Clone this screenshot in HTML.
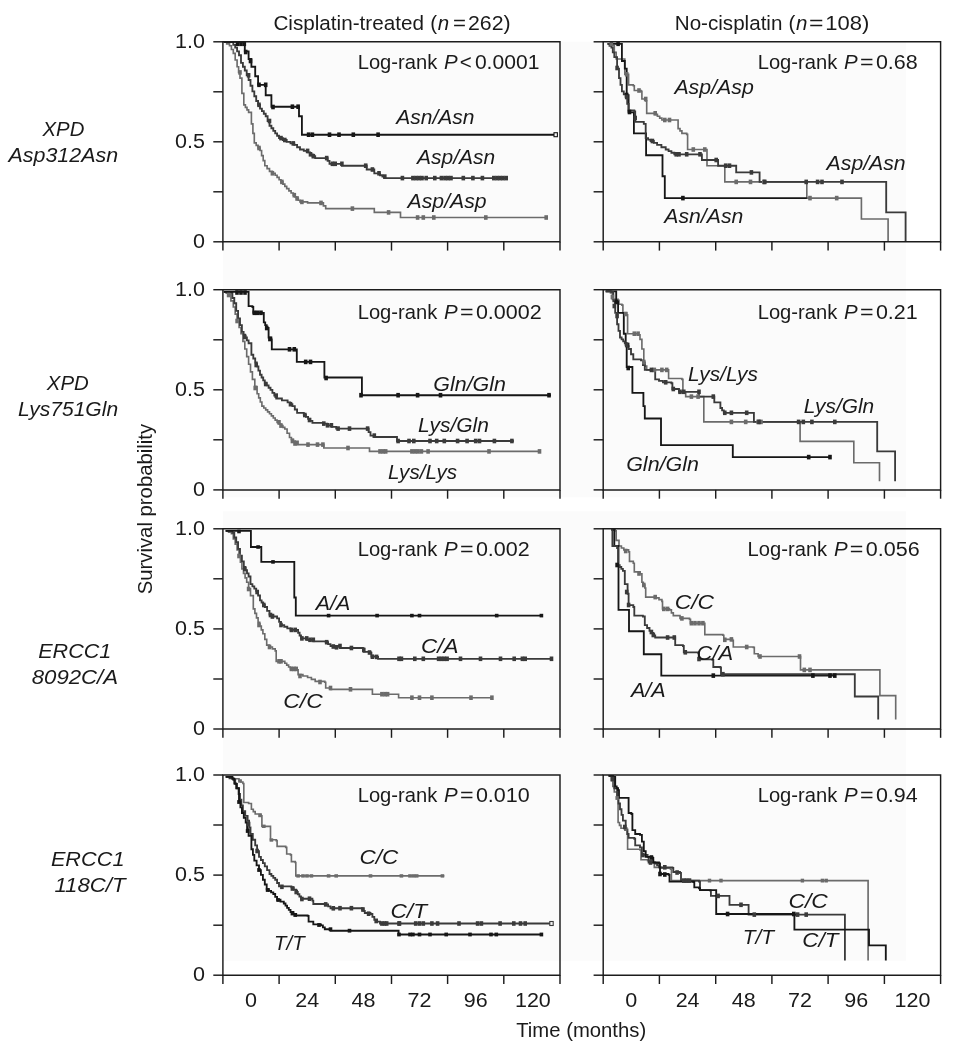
<!DOCTYPE html>
<html><head><meta charset="utf-8"><title>Survival curves</title>
<style>
html,body{margin:0;padding:0;background:#fff;}
body{width:953px;height:1050px;overflow:hidden;font-family:"Liberation Sans",sans-serif;}
svg{display:block;will-change:transform;opacity:0.999;}
</style></head><body>
<svg width="953" height="1050" viewBox="0 0 953 1050" font-family="Liberation Sans, sans-serif">
<rect width="953" height="1050" fill="#ffffff"/>
<rect x="223.0" y="41.8" width="683.0" height="455.4" fill="#fbfbfb"/>
<rect x="223.0" y="511.3" width="683.0" height="449.3" fill="#fbfbfb"/>
<clipPath id="cl00"><rect x="222.9" y="41.8" width="337.1" height="200.0"/></clipPath>
<g clip-path="url(#cl00)" fill="none" stroke-linejoin="miter">
<path d="M223.8 42.0 L226.7 42.0 L226.7 43.9 L229.5 43.9 L229.5 45.7 L231.4 45.7 L231.4 49.5 L233.3 49.5 L233.3 53.3 L235.2 53.3 L235.2 60.0 L237.1 60.0 L237.1 66.7 L238.6 66.7 L238.6 72.4 L240.0 72.4 L240.0 78.1 L241.9 78.1 L241.9 93.3 L243.8 93.3 L243.8 104.8 L245.4 104.8 L245.4 107.3 L247.0 107.3 L247.0 109.9 L248.6 109.9 L248.6 112.4 L251.4 112.4 L251.4 123.8 L252.9 123.8 L252.9 133.3 L254.3 133.3 L254.3 142.9 L256.2 142.9 L256.2 145.4 L258.1 145.4 L258.1 148.0 L260.0 148.0 L260.0 150.5 L261.6 150.5 L261.6 155.6 L263.2 155.6 L263.2 160.6 L264.8 160.6 L264.8 165.7 L267.1 165.7 L267.1 168.6 L269.5 168.6 L269.5 171.4 L272.4 171.4 L272.4 173.3 L275.2 173.3 L275.2 175.2 L277.1 175.2 L277.1 177.4 L279.1 177.4 L279.1 179.7 L281.0 179.7 L281.0 181.9 L282.9 181.9 L282.9 184.1 L284.8 184.1 L284.8 186.4 L286.7 186.4 L286.7 188.6 L288.9 188.6 L288.9 190.8 L291.1 190.8 L291.1 193.0 L293.3 193.0 L293.3 195.2 L295.0 195.2 L295.0 196.9 L296.6 196.9 L296.6 198.6 L298.3 198.6 L298.3 200.2 L300.0 200.2 L300.0 201.9 L307.6 201.9 L307.6 202.9 L321.0 202.9 L323.4 202.9 L323.4 205.8 L325.7 205.8 L325.7 208.6 L372.4 208.6 L374.3 208.6 L374.3 212.4 L400.5 212.4 L400.5 217.5 L546.2 217.5" stroke="#6b6b6b" stroke-width="1.65"/>
<path d="M223.8 42.0 L231.4 42.0 L233.3 42.0 L233.3 44.8 L235.2 44.8 L235.2 47.6 L237.1 47.6 L237.1 51.4 L239.0 51.4 L239.0 55.2 L241.0 55.2 L241.0 62.9 L242.9 62.9 L242.9 66.7 L244.8 66.7 L244.8 70.5 L246.7 70.5 L246.7 75.2 L248.6 75.2 L248.6 80.0 L250.5 80.0 L250.5 85.7 L252.4 85.7 L252.4 91.4 L254.3 91.4 L254.3 96.2 L256.2 96.2 L256.2 101.0 L258.1 101.0 L258.1 104.8 L260.0 104.8 L260.0 108.6 L261.9 108.6 L261.9 111.1 L263.8 111.1 L263.8 113.7 L265.7 113.7 L265.7 116.2 L267.6 116.2 L267.6 121.0 L269.5 121.0 L269.5 125.7 L271.4 125.7 L271.4 128.2 L273.3 128.2 L273.3 130.8 L275.2 130.8 L275.2 133.3 L277.1 133.3 L277.1 135.7 L279.0 135.7 L279.0 138.1 L282.9 138.1 L282.9 140.0 L286.7 140.0 L286.7 141.9 L290.5 141.9 L290.5 143.4 L294.3 143.4 L294.3 144.8 L297.1 144.8 L297.1 147.2 L300.0 147.2 L300.0 149.5 L303.8 149.5 L303.8 150.9 L307.6 150.9 L307.6 152.4 L310.1 152.4 L310.1 154.3 L312.7 154.3 L312.7 156.2 L315.2 156.2 L315.2 158.1 L325.7 158.1 L327.6 158.1 L327.6 160.9 L329.5 160.9 L329.5 163.8 L341.9 163.8 L341.9 165.7 L364.8 165.7 L366.7 165.7 L366.7 169.5 L372.4 169.5 L374.3 169.5 L374.3 173.3 L380.0 173.3 L380.0 175.2 L382.4 175.2 L382.4 176.6 L384.8 176.6 L384.8 178.1 L506.2 178.1" stroke="#3a3a3a" stroke-width="1.85"/>
<path d="M223.8 41.9 L244.8 41.9 L244.8 51.4 L248.6 51.4 L248.6 59.0 L251.4 59.0 L251.4 66.7 L255.2 66.7 L255.2 76.2 L258.1 76.2 L258.1 84.8 L265.7 84.8 L265.7 95.2 L271.4 95.2 L271.4 106.7 L299.0 106.7 L299.0 116.2 L301.9 116.2 L301.9 134.7 L555.7 134.7" stroke="#161616" stroke-width="1.85"/>
<rect x="238.2" y="70.1" width="3.6" height="4.6" fill="#6b6b6b" stroke="none"/>
<rect x="257.2" y="145.7" width="3.6" height="4.6" fill="#6b6b6b" stroke="none"/>
<rect x="270.6" y="171.0" width="3.6" height="4.6" fill="#6b6b6b" stroke="none"/>
<rect x="280.1" y="179.6" width="3.6" height="4.6" fill="#6b6b6b" stroke="none"/>
<rect x="292.5" y="192.9" width="3.6" height="4.6" fill="#6b6b6b" stroke="none"/>
<rect x="295.3" y="196.2" width="3.6" height="4.6" fill="#6b6b6b" stroke="none"/>
<rect x="300.1" y="199.6" width="3.6" height="4.6" fill="#6b6b6b" stroke="none"/>
<rect x="319.2" y="200.6" width="3.6" height="4.6" fill="#6b6b6b" stroke="none"/>
<rect x="350.6" y="206.3" width="3.6" height="4.6" fill="#6b6b6b" stroke="none"/>
<rect x="386.8" y="210.1" width="3.6" height="4.6" fill="#6b6b6b" stroke="none"/>
<rect x="415.8" y="215.2" width="3.6" height="4.6" fill="#6b6b6b" stroke="none"/>
<rect x="421.5" y="215.2" width="3.6" height="4.6" fill="#6b6b6b" stroke="none"/>
<rect x="432.0" y="215.2" width="3.6" height="4.6" fill="#6b6b6b" stroke="none"/>
<rect x="484.0" y="215.2" width="3.6" height="4.6" fill="#6b6b6b" stroke="none"/>
<rect x="544.4" y="215.2" width="3.6" height="4.6" fill="#6b6b6b" stroke="none"/>
<rect x="246.8" y="73.0" width="3.6" height="4.6" fill="#3a3a3a" stroke="none"/>
<rect x="257.2" y="102.5" width="3.6" height="4.6" fill="#3a3a3a" stroke="none"/>
<rect x="267.7" y="118.7" width="3.6" height="4.6" fill="#3a3a3a" stroke="none"/>
<rect x="279.2" y="135.8" width="3.6" height="4.6" fill="#3a3a3a" stroke="none"/>
<rect x="283.0" y="137.7" width="3.6" height="4.6" fill="#3a3a3a" stroke="none"/>
<rect x="291.5" y="141.1" width="3.6" height="4.6" fill="#3a3a3a" stroke="none"/>
<rect x="305.8" y="148.6" width="3.6" height="4.6" fill="#3a3a3a" stroke="none"/>
<rect x="308.7" y="152.0" width="3.6" height="4.6" fill="#3a3a3a" stroke="none"/>
<rect x="311.5" y="153.9" width="3.6" height="4.6" fill="#3a3a3a" stroke="none"/>
<rect x="324.9" y="155.8" width="3.6" height="4.6" fill="#3a3a3a" stroke="none"/>
<rect x="330.6" y="161.5" width="3.6" height="4.6" fill="#3a3a3a" stroke="none"/>
<rect x="333.4" y="161.5" width="3.6" height="4.6" fill="#3a3a3a" stroke="none"/>
<rect x="340.1" y="161.5" width="3.6" height="4.6" fill="#3a3a3a" stroke="none"/>
<rect x="363.9" y="163.4" width="3.6" height="4.6" fill="#3a3a3a" stroke="none"/>
<rect x="370.6" y="167.2" width="3.6" height="4.6" fill="#3a3a3a" stroke="none"/>
<rect x="377.2" y="171.0" width="3.6" height="4.6" fill="#3a3a3a" stroke="none"/>
<rect x="383.0" y="174.3" width="3.6" height="4.6" fill="#3a3a3a" stroke="none"/>
<rect x="400.6" y="175.8" width="3.6" height="4.6" fill="#3a3a3a" stroke="none"/>
<rect x="411.1" y="175.8" width="3.6" height="4.6" fill="#3a3a3a" stroke="none"/>
<rect x="414.2" y="175.8" width="3.6" height="4.6" fill="#3a3a3a" stroke="none"/>
<rect x="417.2" y="175.8" width="3.6" height="4.6" fill="#3a3a3a" stroke="none"/>
<rect x="420.2" y="175.8" width="3.6" height="4.6" fill="#3a3a3a" stroke="none"/>
<rect x="424.4" y="175.8" width="3.6" height="4.6" fill="#3a3a3a" stroke="none"/>
<rect x="433.0" y="175.8" width="3.6" height="4.6" fill="#3a3a3a" stroke="none"/>
<rect x="439.6" y="175.8" width="3.6" height="4.6" fill="#3a3a3a" stroke="none"/>
<rect x="443.2" y="175.8" width="3.6" height="4.6" fill="#3a3a3a" stroke="none"/>
<rect x="446.2" y="175.8" width="3.6" height="4.6" fill="#3a3a3a" stroke="none"/>
<rect x="449.2" y="175.8" width="3.6" height="4.6" fill="#3a3a3a" stroke="none"/>
<rect x="461.5" y="175.8" width="3.6" height="4.6" fill="#3a3a3a" stroke="none"/>
<rect x="471.1" y="175.8" width="3.6" height="4.6" fill="#3a3a3a" stroke="none"/>
<rect x="480.6" y="175.8" width="3.6" height="4.6" fill="#3a3a3a" stroke="none"/>
<rect x="492.0" y="175.8" width="3.6" height="4.6" fill="#3a3a3a" stroke="none"/>
<rect x="495.2" y="175.8" width="3.6" height="4.6" fill="#3a3a3a" stroke="none"/>
<rect x="498.2" y="175.8" width="3.6" height="4.6" fill="#3a3a3a" stroke="none"/>
<rect x="501.2" y="175.8" width="3.6" height="4.6" fill="#3a3a3a" stroke="none"/>
<rect x="504.4" y="175.8" width="3.6" height="4.6" fill="#3a3a3a" stroke="none"/>
<rect x="235.7" y="41.5" width="3.6" height="4.6" fill="#161616" stroke="none"/>
<rect x="239.2" y="41.5" width="3.6" height="4.6" fill="#161616" stroke="none"/>
<rect x="242.5" y="41.5" width="3.6" height="4.6" fill="#161616" stroke="none"/>
<rect x="243.9" y="49.7" width="3.6" height="4.6" fill="#161616" stroke="none"/>
<rect x="248.7" y="58.7" width="3.6" height="4.6" fill="#161616" stroke="none"/>
<rect x="257.2" y="82.5" width="3.6" height="4.6" fill="#161616" stroke="none"/>
<rect x="263.9" y="82.5" width="3.6" height="4.6" fill="#161616" stroke="none"/>
<rect x="271.2" y="104.7" width="3.6" height="4.6" fill="#161616" stroke="none"/>
<rect x="290.6" y="104.4" width="3.6" height="4.6" fill="#161616" stroke="none"/>
<rect x="296.3" y="104.4" width="3.6" height="4.6" fill="#161616" stroke="none"/>
<rect x="306.8" y="132.4" width="3.6" height="4.6" fill="#161616" stroke="none"/>
<rect x="310.6" y="132.4" width="3.6" height="4.6" fill="#161616" stroke="none"/>
<rect x="327.7" y="132.4" width="3.6" height="4.6" fill="#161616" stroke="none"/>
<rect x="337.2" y="132.4" width="3.6" height="4.6" fill="#161616" stroke="none"/>
<rect x="351.5" y="132.4" width="3.6" height="4.6" fill="#161616" stroke="none"/>
<rect x="376.3" y="132.4" width="3.6" height="4.6" fill="#161616" stroke="none"/>
<rect x="554.0" y="132.7" width="3.4" height="4" fill="#f4f4f4" stroke="#161616" stroke-width="1.1"/>
</g>
<clipPath id="cl01"><rect x="603.2" y="41.8" width="337.4" height="200.0"/></clipPath>
<g clip-path="url(#cl01)" fill="none" stroke-linejoin="miter">
<path d="M607.6 43.8 L612.4 43.8 L612.4 45.7 L614.3 45.7 L614.3 52.4 L616.2 52.4 L616.2 59.0 L624.8 59.0 L624.8 74.3 L628.6 74.3 L628.6 75.2 L628.6 84.8 L633.3 84.8 L633.3 85.7 L634.3 85.7 L634.3 90.5 L641.0 90.5 L641.0 91.4 L641.9 91.4 L641.9 99.0 L645.7 99.0 L645.7 101.0 L646.7 101.0 L646.7 113.3 L655.2 113.3 L655.2 114.3 L657.4 114.3 L657.4 116.2 L659.7 116.2 L659.7 118.1 L661.9 118.1 L661.9 120.0 L677.1 120.0 L678.1 120.0 L678.1 128.6 L680.0 128.6 L680.0 130.9 L681.9 130.9 L681.9 133.3 L686.7 133.3 L686.7 134.3 L687.6 134.3 L687.6 149.5 L706.7 149.5 L707.0 149.5 L707.0 165.7 L723.8 165.7 L724.8 165.7 L724.8 181.9 L806.8 181.9 L806.8 198.1 L861.4 198.1 L861.4 219.0 L888.1 219.0 L888.1 243.0" stroke="#6b6b6b" stroke-width="1.65"/>
<path d="M607.6 43.8 L621.9 43.8 L621.9 61.0 L624.8 61.0 L624.8 68.6 L626.7 68.6 L626.7 95.2 L628.6 95.2 L628.6 112.4 L633.9 112.4 L633.9 133.3 L646.1 133.3 L646.1 155.2 L662.5 155.2 L662.5 176.2 L664.8 176.2 L664.8 198.1 L806.8 198.1" stroke="#161616" stroke-width="1.85"/>
<path d="M607.6 43.8 L609.5 43.8 L609.5 45.7 L611.4 45.7 L611.4 47.6 L612.8 47.6 L612.8 52.4 L614.3 52.4 L614.3 57.1 L617.1 57.1 L617.1 68.6 L619.0 68.6 L619.0 78.1 L620.5 78.1 L620.5 84.8 L621.9 84.8 L621.9 91.4 L623.8 91.4 L623.8 94.2 L625.7 94.2 L625.7 97.1 L627.2 97.1 L627.2 103.8 L628.6 103.8 L628.6 110.5 L634.3 110.5 L634.3 111.4 L635.2 111.4 L635.2 121.9 L643.8 121.9 L643.8 123.8 L645.7 123.8 L645.7 138.1 L648.1 138.1 L648.1 139.6 L650.5 139.6 L650.5 141.0 L653.8 141.0 L653.8 142.9 L657.1 142.9 L657.1 144.8 L661.4 144.8 L661.4 147.2 L665.7 147.2 L665.7 149.5 L668.6 149.5 L668.6 151.1 L671.4 151.1 L671.4 152.7 L674.3 152.7 L674.3 154.3 L701.0 154.3 L701.9 154.3 L701.9 160.0 L717.1 160.0 L718.1 160.0 L718.1 165.7 L735.2 165.7 L736.2 165.7 L736.2 172.4 L759.0 172.4 L759.6 172.4 L759.6 181.9 L886.2 181.9 L886.2 212.4 L905.6 212.4 L905.6 243.0" stroke="#3a3a3a" stroke-width="1.85"/>
<rect x="609.6" y="41.5" width="3.6" height="4.6" fill="#6b6b6b" stroke="none"/>
<rect x="624.9" y="72.0" width="3.6" height="4.6" fill="#6b6b6b" stroke="none"/>
<rect x="637.2" y="88.2" width="3.6" height="4.6" fill="#6b6b6b" stroke="none"/>
<rect x="643.9" y="96.7" width="3.6" height="4.6" fill="#6b6b6b" stroke="none"/>
<rect x="653.4" y="111.0" width="3.6" height="4.6" fill="#6b6b6b" stroke="none"/>
<rect x="663.0" y="117.7" width="3.6" height="4.6" fill="#6b6b6b" stroke="none"/>
<rect x="667.7" y="117.7" width="3.6" height="4.6" fill="#6b6b6b" stroke="none"/>
<rect x="691.5" y="147.2" width="3.6" height="4.6" fill="#6b6b6b" stroke="none"/>
<rect x="703.0" y="147.2" width="3.6" height="4.6" fill="#6b6b6b" stroke="none"/>
<rect x="734.4" y="179.6" width="3.6" height="4.6" fill="#6b6b6b" stroke="none"/>
<rect x="748.7" y="179.6" width="3.6" height="4.6" fill="#6b6b6b" stroke="none"/>
<rect x="762.0" y="179.6" width="3.6" height="4.6" fill="#6b6b6b" stroke="none"/>
<rect x="808.2" y="195.8" width="3.6" height="4.6" fill="#6b6b6b" stroke="none"/>
<rect x="834.9" y="195.8" width="3.6" height="4.6" fill="#6b6b6b" stroke="none"/>
<rect x="616.3" y="41.5" width="3.6" height="4.6" fill="#161616" stroke="none"/>
<rect x="624.9" y="92.7" width="3.6" height="4.6" fill="#161616" stroke="none"/>
<rect x="627.7" y="109.7" width="3.6" height="4.6" fill="#161616" stroke="none"/>
<rect x="681.1" y="195.8" width="3.6" height="4.6" fill="#161616" stroke="none"/>
<rect x="615.3" y="65.7" width="3.6" height="4.6" fill="#3a3a3a" stroke="none"/>
<rect x="624.9" y="94.7" width="3.6" height="4.6" fill="#3a3a3a" stroke="none"/>
<rect x="633.4" y="115.7" width="3.6" height="4.6" fill="#3a3a3a" stroke="none"/>
<rect x="650.6" y="138.7" width="3.6" height="4.6" fill="#3a3a3a" stroke="none"/>
<rect x="674.4" y="152.0" width="3.6" height="4.6" fill="#3a3a3a" stroke="none"/>
<rect x="677.2" y="152.0" width="3.6" height="4.6" fill="#3a3a3a" stroke="none"/>
<rect x="684.9" y="152.0" width="3.6" height="4.6" fill="#3a3a3a" stroke="none"/>
<rect x="698.2" y="152.0" width="3.6" height="4.6" fill="#3a3a3a" stroke="none"/>
<rect x="714.4" y="157.7" width="3.6" height="4.6" fill="#3a3a3a" stroke="none"/>
<rect x="723.9" y="163.4" width="3.6" height="4.6" fill="#3a3a3a" stroke="none"/>
<rect x="727.7" y="163.4" width="3.6" height="4.6" fill="#3a3a3a" stroke="none"/>
<rect x="749.6" y="170.1" width="3.6" height="4.6" fill="#3a3a3a" stroke="none"/>
<rect x="763.0" y="179.6" width="3.6" height="4.6" fill="#3a3a3a" stroke="none"/>
<rect x="804.4" y="179.6" width="3.6" height="4.6" fill="#3a3a3a" stroke="none"/>
<rect x="815.8" y="179.6" width="3.6" height="4.6" fill="#3a3a3a" stroke="none"/>
<rect x="820.2" y="179.6" width="3.6" height="4.6" fill="#3a3a3a" stroke="none"/>
<rect x="840.2" y="179.6" width="3.6" height="4.6" fill="#3a3a3a" stroke="none"/>
</g>
<clipPath id="cl10"><rect x="222.9" y="289.7" width="337.1" height="200.2"/></clipPath>
<g clip-path="url(#cl10)" fill="none" stroke-linejoin="miter">
<path d="M223.8 291.8 L226.2 291.8 L226.2 293.2 L228.6 293.2 L228.6 294.7 L230.9 294.7 L230.9 300.9 L233.3 300.9 L233.3 307.0 L235.2 307.0 L235.2 314.1 L237.1 314.1 L237.1 321.3 L239.1 321.3 L239.1 327.5 L241.0 327.5 L241.0 333.7 L242.9 333.7 L242.9 341.4 L244.8 341.4 L244.8 349.0 L246.7 349.0 L246.7 356.6 L248.6 356.6 L248.6 364.2 L250.5 364.2 L250.5 371.8 L252.4 371.8 L252.4 379.4 L254.8 379.4 L254.8 386.5 L257.1 386.5 L257.1 393.7 L258.7 393.7 L258.7 397.8 L260.3 397.8 L260.3 402.0 L261.9 402.0 L261.9 406.1 L263.8 406.1 L263.8 408.0 L265.7 408.0 L265.7 409.9 L267.6 409.9 L267.6 411.8 L269.5 411.8 L269.5 413.7 L271.4 413.7 L271.4 415.9 L273.3 415.9 L273.3 418.0 L275.2 418.0 L275.2 420.1 L277.1 420.1 L277.1 422.3 L279.0 422.3 L279.0 424.0 L281.0 424.0 L281.0 425.6 L282.9 425.6 L282.9 427.3 L284.8 427.3 L284.8 429.0 L287.1 429.0 L287.1 433.2 L289.5 433.2 L289.5 437.5 L291.4 437.5 L291.4 439.3 L293.3 439.3 L293.3 441.1 L295.2 441.1 L295.2 442.8 L297.1 442.8 L297.1 444.6 L322.9 444.6 L323.8 444.6 L323.8 448.0 L368.6 448.0 L369.5 448.0 L369.5 451.4 L540.5 451.4" stroke="#6b6b6b" stroke-width="1.65"/>
<path d="M223.8 291.8 L230.5 291.8 L230.5 292.8 L232.4 292.8 L232.4 298.0 L234.3 298.0 L234.3 303.2 L236.2 303.2 L236.2 310.9 L238.1 310.9 L238.1 318.5 L240.0 318.5 L240.0 325.1 L241.9 325.1 L241.9 331.8 L243.6 331.8 L243.6 334.6 L245.2 334.6 L245.2 337.5 L246.9 337.5 L246.9 340.4 L248.6 340.4 L248.6 343.2 L251.4 343.2 L251.4 354.7 L253.3 354.7 L253.3 358.5 L255.2 358.5 L255.2 362.3 L256.8 362.3 L256.8 366.4 L258.4 366.4 L258.4 370.6 L260.0 370.6 L260.0 374.7 L261.6 374.7 L261.6 377.5 L263.2 377.5 L263.2 380.4 L264.8 380.4 L264.8 383.2 L266.7 383.2 L266.7 385.4 L268.6 385.4 L268.6 387.7 L270.5 387.7 L270.5 389.9 L272.4 389.9 L272.4 392.8 L274.3 392.8 L274.3 395.6 L276.2 395.6 L276.2 398.5 L281.9 398.5 L281.9 400.4 L287.6 400.4 L287.6 402.3 L290.0 402.3 L290.0 404.2 L292.4 404.2 L292.4 406.1 L294.8 406.1 L294.8 409.5 L297.1 409.5 L297.1 412.8 L303.8 412.8 L303.8 414.7 L305.9 414.7 L305.9 416.8 L308.1 416.8 L308.1 418.8 L310.2 418.8 L310.2 420.8 L312.4 420.8 L312.4 422.9 L322.9 422.9 L322.9 423.6 L327.3 423.6 L327.3 425.3 L331.8 425.3 L331.8 426.9 L336.2 426.9 L336.2 428.6 L366.7 428.6 L368.6 428.6 L368.6 432.1 L370.5 432.1 L370.5 435.6 L374.3 435.6 L374.3 437.0 L395.2 437.0 L397.0 437.0 L397.0 441.0 L513.8 441.0" stroke="#3a3a3a" stroke-width="1.85"/>
<path d="M223.8 291.8 L248.6 291.8 L248.6 306.1 L252.4 306.1 L252.4 307.0 L253.3 307.0 L253.3 312.8 L262.9 312.8 L263.8 312.8 L263.8 322.3 L265.2 322.3 L265.2 325.1 L266.7 325.1 L266.7 328.0 L268.6 328.0 L268.6 337.5 L271.4 337.5 L271.4 339.4 L271.8 339.4 L271.8 349.3 L296.2 349.3 L296.8 349.3 L296.8 361.9 L323.8 361.9 L324.4 361.9 L324.4 377.5 L361.3 377.5 L361.9 377.5 L361.9 395.2 L551.0 395.2" stroke="#161616" stroke-width="1.85"/>
<rect x="226.8" y="292.7" width="3.6" height="4.6" fill="#6b6b6b" stroke="none"/>
<rect x="235.3" y="318.7" width="3.6" height="4.6" fill="#6b6b6b" stroke="none"/>
<rect x="253.4" y="385.7" width="3.6" height="4.6" fill="#6b6b6b" stroke="none"/>
<rect x="277.2" y="420.0" width="3.6" height="4.6" fill="#6b6b6b" stroke="none"/>
<rect x="279.2" y="423.3" width="3.6" height="4.6" fill="#6b6b6b" stroke="none"/>
<rect x="290.6" y="438.7" width="3.6" height="4.6" fill="#6b6b6b" stroke="none"/>
<rect x="293.2" y="441.2" width="3.6" height="4.6" fill="#6b6b6b" stroke="none"/>
<rect x="295.3" y="440.5" width="3.6" height="4.6" fill="#6b6b6b" stroke="none"/>
<rect x="306.2" y="442.3" width="3.6" height="4.6" fill="#6b6b6b" stroke="none"/>
<rect x="315.7" y="442.3" width="3.6" height="4.6" fill="#6b6b6b" stroke="none"/>
<rect x="321.1" y="442.3" width="3.6" height="4.6" fill="#6b6b6b" stroke="none"/>
<rect x="346.2" y="445.7" width="3.6" height="4.6" fill="#6b6b6b" stroke="none"/>
<rect x="378.2" y="449.1" width="3.6" height="4.6" fill="#6b6b6b" stroke="none"/>
<rect x="381.2" y="449.1" width="3.6" height="4.6" fill="#6b6b6b" stroke="none"/>
<rect x="383.9" y="449.1" width="3.6" height="4.6" fill="#6b6b6b" stroke="none"/>
<rect x="410.1" y="449.1" width="3.6" height="4.6" fill="#6b6b6b" stroke="none"/>
<rect x="413.2" y="449.1" width="3.6" height="4.6" fill="#6b6b6b" stroke="none"/>
<rect x="416.2" y="449.1" width="3.6" height="4.6" fill="#6b6b6b" stroke="none"/>
<rect x="419.6" y="449.1" width="3.6" height="4.6" fill="#6b6b6b" stroke="none"/>
<rect x="426.3" y="449.1" width="3.6" height="4.6" fill="#6b6b6b" stroke="none"/>
<rect x="487.2" y="449.1" width="3.6" height="4.6" fill="#6b6b6b" stroke="none"/>
<rect x="537.7" y="449.1" width="3.6" height="4.6" fill="#6b6b6b" stroke="none"/>
<rect x="243.0" y="334.7" width="3.6" height="4.6" fill="#3a3a3a" stroke="none"/>
<rect x="254.4" y="362.7" width="3.6" height="4.6" fill="#3a3a3a" stroke="none"/>
<rect x="263.9" y="381.7" width="3.6" height="4.6" fill="#3a3a3a" stroke="none"/>
<rect x="274.4" y="393.3" width="3.6" height="4.6" fill="#3a3a3a" stroke="none"/>
<rect x="288.7" y="401.9" width="3.6" height="4.6" fill="#3a3a3a" stroke="none"/>
<rect x="303.0" y="412.7" width="3.6" height="4.6" fill="#3a3a3a" stroke="none"/>
<rect x="307.7" y="417.7" width="3.6" height="4.6" fill="#3a3a3a" stroke="none"/>
<rect x="322.0" y="421.3" width="3.6" height="4.6" fill="#3a3a3a" stroke="none"/>
<rect x="325.7" y="423.0" width="3.6" height="4.6" fill="#3a3a3a" stroke="none"/>
<rect x="329.6" y="423.0" width="3.6" height="4.6" fill="#3a3a3a" stroke="none"/>
<rect x="336.3" y="426.3" width="3.6" height="4.6" fill="#3a3a3a" stroke="none"/>
<rect x="347.7" y="426.3" width="3.6" height="4.6" fill="#3a3a3a" stroke="none"/>
<rect x="365.8" y="426.3" width="3.6" height="4.6" fill="#3a3a3a" stroke="none"/>
<rect x="372.5" y="433.3" width="3.6" height="4.6" fill="#3a3a3a" stroke="none"/>
<rect x="396.3" y="438.7" width="3.6" height="4.6" fill="#3a3a3a" stroke="none"/>
<rect x="407.2" y="438.7" width="3.6" height="4.6" fill="#3a3a3a" stroke="none"/>
<rect x="412.0" y="438.7" width="3.6" height="4.6" fill="#3a3a3a" stroke="none"/>
<rect x="428.2" y="438.7" width="3.6" height="4.6" fill="#3a3a3a" stroke="none"/>
<rect x="434.9" y="438.7" width="3.6" height="4.6" fill="#3a3a3a" stroke="none"/>
<rect x="442.5" y="438.7" width="3.6" height="4.6" fill="#3a3a3a" stroke="none"/>
<rect x="455.8" y="438.7" width="3.6" height="4.6" fill="#3a3a3a" stroke="none"/>
<rect x="465.3" y="438.7" width="3.6" height="4.6" fill="#3a3a3a" stroke="none"/>
<rect x="473.9" y="438.7" width="3.6" height="4.6" fill="#3a3a3a" stroke="none"/>
<rect x="477.7" y="438.7" width="3.6" height="4.6" fill="#3a3a3a" stroke="none"/>
<rect x="492.6" y="438.7" width="3.6" height="4.6" fill="#3a3a3a" stroke="none"/>
<rect x="510.1" y="438.7" width="3.6" height="4.6" fill="#3a3a3a" stroke="none"/>
<rect x="235.2" y="290.2" width="3.6" height="4.6" fill="#161616" stroke="none"/>
<rect x="239.2" y="290.2" width="3.6" height="4.6" fill="#161616" stroke="none"/>
<rect x="243.2" y="290.2" width="3.6" height="4.6" fill="#161616" stroke="none"/>
<rect x="252.5" y="310.5" width="3.6" height="4.6" fill="#161616" stroke="none"/>
<rect x="255.7" y="310.5" width="3.6" height="4.6" fill="#161616" stroke="none"/>
<rect x="259.2" y="310.5" width="3.6" height="4.6" fill="#161616" stroke="none"/>
<rect x="264.9" y="325.7" width="3.6" height="4.6" fill="#161616" stroke="none"/>
<rect x="268.1" y="336.7" width="3.6" height="4.6" fill="#161616" stroke="none"/>
<rect x="287.7" y="347.0" width="3.6" height="4.6" fill="#161616" stroke="none"/>
<rect x="292.5" y="347.0" width="3.6" height="4.6" fill="#161616" stroke="none"/>
<rect x="303.9" y="359.6" width="3.6" height="4.6" fill="#161616" stroke="none"/>
<rect x="308.7" y="359.6" width="3.6" height="4.6" fill="#161616" stroke="none"/>
<rect x="324.3" y="375.7" width="3.6" height="4.6" fill="#161616" stroke="none"/>
<rect x="359.2" y="392.9" width="3.6" height="4.6" fill="#161616" stroke="none"/>
<rect x="396.3" y="392.9" width="3.6" height="4.6" fill="#161616" stroke="none"/>
<rect x="415.8" y="392.9" width="3.6" height="4.6" fill="#161616" stroke="none"/>
<rect x="438.7" y="392.9" width="3.6" height="4.6" fill="#161616" stroke="none"/>
<rect x="547.2" y="392.9" width="3.6" height="4.6" fill="#161616" stroke="none"/>
</g>
<clipPath id="cl11"><rect x="603.2" y="289.7" width="337.4" height="191.6"/></clipPath>
<g clip-path="url(#cl11)" fill="none" stroke-linejoin="miter">
<path d="M605.7 291.4 L610.5 291.4 L610.5 292.8 L612.4 292.8 L612.4 299.4 L618.1 299.4 L618.1 300.4 L619.0 300.4 L619.0 304.2 L621.9 304.2 L621.9 305.1 L622.9 305.1 L622.9 312.8 L626.7 312.8 L626.7 314.7 L627.6 314.7 L627.6 333.7 L638.1 333.7 L638.1 334.7 L640.0 334.7 L640.0 339.4 L641.9 339.4 L641.9 349.0 L643.8 349.0 L643.8 362.3 L645.2 362.3 L645.2 366.1 L646.7 366.1 L646.7 369.9 L667.6 369.9 L668.6 369.9 L668.6 378.5 L681.9 378.5 L681.9 379.4 L682.9 379.4 L682.9 391.8 L685.7 391.8 L685.7 396.6 L702.9 396.6 L703.8 396.6 L703.8 421.9 L800.1 421.9 L800.1 441.3 L853.8 441.3 L853.8 462.7 L879.5 462.7 L879.5 483.0" stroke="#6b6b6b" stroke-width="1.65"/>
<path d="M605.7 291.4 L616.2 291.4 L616.2 301.3 L618.1 301.3 L618.1 302.3 L618.1 312.8 L623.8 312.8 L623.8 313.7 L623.8 333.7 L625.7 333.7 L625.7 334.7 L625.7 345.1 L626.7 345.1 L626.7 367.0 L632.4 367.0 L632.4 368.0 L632.4 392.8 L642.9 392.8 L643.4 392.8 L643.4 406.1 L644.8 406.1 L644.8 407.0 L644.8 418.5 L661.0 418.5 L661.0 445.1 L732.4 445.1 L732.8 445.1 L732.8 457.1 L830.0 457.1" stroke="#161616" stroke-width="1.85"/>
<path d="M605.7 291.4 L611.4 291.4 L611.4 291.8 L613.3 291.8 L613.3 301.3 L615.2 301.3 L615.2 312.8 L617.1 312.8 L617.1 324.2 L618.5 324.2 L618.5 330.9 L620.0 330.9 L620.0 337.5 L621.6 337.5 L621.6 339.4 L623.2 339.4 L623.2 341.3 L624.8 341.3 L624.8 343.2 L626.7 343.2 L626.7 346.1 L628.6 346.1 L628.6 349.0 L631.0 349.0 L631.0 354.2 L633.3 354.2 L633.3 359.4 L641.0 359.4 L641.0 360.4 L642.9 360.4 L642.9 365.1 L644.8 365.1 L644.8 369.9 L654.3 369.9 L654.3 370.9 L655.2 370.9 L655.2 379.4 L659.0 379.4 L659.0 380.9 L662.9 380.9 L662.9 382.3 L671.4 382.3 L671.4 383.2 L672.4 383.2 L672.4 389.0 L679.0 389.0 L679.0 391.8 L698.1 391.8 L699.0 391.8 L699.0 396.6 L713.3 396.6 L714.3 396.6 L714.3 402.3 L720.0 402.3 L720.4 402.3 L720.4 408.0 L722.1 408.0 L722.1 410.4 L723.8 410.4 L723.8 412.8 L753.3 412.8 L753.9 412.8 L753.9 421.9 L877.2 421.9 L877.2 451.4 L895.1 451.4 L895.1 483.0" stroke="#3a3a3a" stroke-width="1.85"/>
<rect x="610.6" y="294.7" width="3.6" height="4.6" fill="#6b6b6b" stroke="none"/>
<rect x="623.9" y="311.7" width="3.6" height="4.6" fill="#6b6b6b" stroke="none"/>
<rect x="632.5" y="331.4" width="3.6" height="4.6" fill="#6b6b6b" stroke="none"/>
<rect x="636.3" y="331.4" width="3.6" height="4.6" fill="#6b6b6b" stroke="none"/>
<rect x="642.0" y="359.7" width="3.6" height="4.6" fill="#6b6b6b" stroke="none"/>
<rect x="652.5" y="367.6" width="3.6" height="4.6" fill="#6b6b6b" stroke="none"/>
<rect x="660.1" y="367.6" width="3.6" height="4.6" fill="#6b6b6b" stroke="none"/>
<rect x="664.9" y="367.6" width="3.6" height="4.6" fill="#6b6b6b" stroke="none"/>
<rect x="689.6" y="394.3" width="3.6" height="4.6" fill="#6b6b6b" stroke="none"/>
<rect x="696.3" y="394.3" width="3.6" height="4.6" fill="#6b6b6b" stroke="none"/>
<rect x="729.6" y="419.6" width="3.6" height="4.6" fill="#6b6b6b" stroke="none"/>
<rect x="743.9" y="419.6" width="3.6" height="4.6" fill="#6b6b6b" stroke="none"/>
<rect x="756.3" y="419.6" width="3.6" height="4.6" fill="#6b6b6b" stroke="none"/>
<rect x="759.2" y="419.6" width="3.6" height="4.6" fill="#6b6b6b" stroke="none"/>
<rect x="614.4" y="299.7" width="3.6" height="4.6" fill="#161616" stroke="none"/>
<rect x="625.8" y="342.7" width="3.6" height="4.6" fill="#161616" stroke="none"/>
<rect x="626.4" y="365.7" width="3.6" height="4.6" fill="#161616" stroke="none"/>
<rect x="806.9" y="454.8" width="3.6" height="4.6" fill="#161616" stroke="none"/>
<rect x="828.2" y="454.8" width="3.6" height="4.6" fill="#161616" stroke="none"/>
<rect x="612.5" y="303.7" width="3.6" height="4.6" fill="#3a3a3a" stroke="none"/>
<rect x="615.3" y="313.7" width="3.6" height="4.6" fill="#3a3a3a" stroke="none"/>
<rect x="624.9" y="342.7" width="3.6" height="4.6" fill="#3a3a3a" stroke="none"/>
<rect x="649.6" y="367.6" width="3.6" height="4.6" fill="#3a3a3a" stroke="none"/>
<rect x="663.9" y="380.0" width="3.6" height="4.6" fill="#3a3a3a" stroke="none"/>
<rect x="671.5" y="386.7" width="3.6" height="4.6" fill="#3a3a3a" stroke="none"/>
<rect x="678.2" y="389.5" width="3.6" height="4.6" fill="#3a3a3a" stroke="none"/>
<rect x="682.0" y="389.5" width="3.6" height="4.6" fill="#3a3a3a" stroke="none"/>
<rect x="697.2" y="389.5" width="3.6" height="4.6" fill="#3a3a3a" stroke="none"/>
<rect x="711.5" y="394.3" width="3.6" height="4.6" fill="#3a3a3a" stroke="none"/>
<rect x="723.0" y="410.5" width="3.6" height="4.6" fill="#3a3a3a" stroke="none"/>
<rect x="729.6" y="410.5" width="3.6" height="4.6" fill="#3a3a3a" stroke="none"/>
<rect x="744.9" y="410.5" width="3.6" height="4.6" fill="#3a3a3a" stroke="none"/>
<rect x="757.2" y="419.6" width="3.6" height="4.6" fill="#3a3a3a" stroke="none"/>
<rect x="796.8" y="419.6" width="3.6" height="4.6" fill="#3a3a3a" stroke="none"/>
<rect x="801.5" y="419.6" width="3.6" height="4.6" fill="#3a3a3a" stroke="none"/>
<rect x="810.1" y="419.6" width="3.6" height="4.6" fill="#3a3a3a" stroke="none"/>
<rect x="833.0" y="419.6" width="3.6" height="4.6" fill="#3a3a3a" stroke="none"/>
</g>
<clipPath id="cl20"><rect x="222.9" y="528.8" width="337.1" height="200.2"/></clipPath>
<g clip-path="url(#cl20)" fill="none" stroke-linejoin="miter">
<path d="M225.7 530.8 L228.6 530.8 L228.6 532.2 L231.4 532.2 L231.4 533.7 L233.3 533.7 L233.3 538.9 L235.2 538.9 L235.2 544.1 L237.1 544.1 L237.1 549.9 L239.0 549.9 L239.0 555.6 L240.4 555.6 L240.4 562.2 L241.9 562.2 L241.9 568.9 L243.5 568.9 L243.5 573.3 L245.1 573.3 L245.1 577.8 L246.7 577.8 L246.7 582.2 L248.6 582.2 L248.6 588.9 L250.5 588.9 L250.5 595.6 L253.3 595.6 L253.3 608.9 L254.9 608.9 L254.9 613.3 L256.5 613.3 L256.5 617.8 L258.1 617.8 L258.1 622.2 L259.7 622.2 L259.7 626.0 L261.3 626.0 L261.3 629.9 L262.9 629.9 L262.9 633.7 L264.8 633.7 L264.8 639.4 L266.7 639.4 L266.7 645.1 L269.5 645.1 L269.5 647.0 L272.4 647.0 L272.4 648.9 L275.2 648.9 L275.2 650.8 L276.2 650.8 L276.2 661.3 L284.8 661.3 L284.8 663.2 L286.7 663.2 L286.7 665.1 L288.6 665.1 L288.6 667.0 L290.5 667.0 L290.5 668.9 L297.1 668.9 L297.1 669.9 L298.1 669.9 L298.1 674.6 L302.9 674.6 L302.9 676.0 L307.6 676.0 L307.6 677.5 L311.4 677.5 L311.4 679.4 L315.2 679.4 L315.2 681.3 L324.8 681.3 L324.8 682.2 L325.7 682.2 L325.7 688.0 L330.5 688.0 L330.5 689.3 L371.4 689.3 L372.4 689.3 L372.4 694.2 L398.6 694.2 L398.6 697.7 L492.9 697.7" stroke="#6b6b6b" stroke-width="1.65"/>
<path d="M225.7 530.8 L232.4 530.8 L232.4 532.7 L234.3 532.7 L234.3 537.5 L236.2 537.5 L236.2 542.2 L238.1 542.2 L238.1 548.9 L240.0 548.9 L240.0 555.6 L241.9 555.6 L241.9 561.3 L243.8 561.3 L243.8 567.0 L245.4 567.0 L245.4 570.2 L247.0 570.2 L247.0 573.3 L248.6 573.3 L248.6 576.5 L250.5 576.5 L250.5 584.1 L252.4 584.1 L252.4 586.3 L254.3 586.3 L254.3 588.6 L256.2 588.6 L256.2 590.8 L258.1 590.8 L258.1 595.5 L260.0 595.5 L260.0 600.3 L261.6 600.3 L261.6 602.5 L263.2 602.5 L263.2 604.8 L264.8 604.8 L264.8 607.0 L267.1 607.0 L267.1 610.8 L269.5 610.8 L269.5 614.6 L273.3 614.6 L273.3 616.5 L277.1 616.5 L277.1 618.4 L279.1 618.4 L279.1 621.8 L281.0 621.8 L281.0 625.1 L284.2 625.1 L284.2 626.7 L287.3 626.7 L287.3 628.3 L290.5 628.3 L290.5 629.9 L298.1 629.9 L298.1 632.7 L299.6 632.7 L299.6 635.5 L301.0 635.5 L301.0 638.4 L307.1 638.4 L307.1 639.8 L313.3 639.8 L313.3 641.3 L325.7 641.3 L325.7 642.2 L328.1 642.2 L328.1 644.1 L330.5 644.1 L330.5 646.0 L340.0 646.0 L340.0 648.0 L362.9 648.0 L362.9 648.3 L363.8 648.3 L363.8 651.8 L370.5 651.8 L370.5 652.7 L371.4 652.7 L371.4 656.5 L377.1 656.5 L377.1 656.9 L378.1 656.9 L378.1 658.8 L552.9 658.8" stroke="#3a3a3a" stroke-width="1.85"/>
<path d="M225.7 530.8 L250.5 530.8 L250.9 530.8 L250.9 547.0 L261.0 547.0 L261.3 547.0 L261.3 561.9 L293.9 561.9 L294.3 561.9 L294.3 597.5 L295.8 597.5 L295.8 597.9 L295.8 615.6 L542.4 615.6" stroke="#161616" stroke-width="1.85"/>
<rect x="237.2" y="553.7" width="3.6" height="4.6" fill="#6b6b6b" stroke="none"/>
<rect x="246.8" y="586.7" width="3.6" height="4.6" fill="#6b6b6b" stroke="none"/>
<rect x="257.2" y="622.7" width="3.6" height="4.6" fill="#6b6b6b" stroke="none"/>
<rect x="267.7" y="644.7" width="3.6" height="4.6" fill="#6b6b6b" stroke="none"/>
<rect x="277.2" y="659.0" width="3.6" height="4.6" fill="#6b6b6b" stroke="none"/>
<rect x="279.2" y="659.0" width="3.6" height="4.6" fill="#6b6b6b" stroke="none"/>
<rect x="289.6" y="666.6" width="3.6" height="4.6" fill="#6b6b6b" stroke="none"/>
<rect x="292.2" y="666.6" width="3.6" height="4.6" fill="#6b6b6b" stroke="none"/>
<rect x="294.4" y="666.6" width="3.6" height="4.6" fill="#6b6b6b" stroke="none"/>
<rect x="298.2" y="673.7" width="3.6" height="4.6" fill="#6b6b6b" stroke="none"/>
<rect x="318.2" y="679.7" width="3.6" height="4.6" fill="#6b6b6b" stroke="none"/>
<rect x="328.7" y="685.7" width="3.6" height="4.6" fill="#6b6b6b" stroke="none"/>
<rect x="348.7" y="687.0" width="3.6" height="4.6" fill="#6b6b6b" stroke="none"/>
<rect x="380.1" y="691.9" width="3.6" height="4.6" fill="#6b6b6b" stroke="none"/>
<rect x="383.2" y="691.9" width="3.6" height="4.6" fill="#6b6b6b" stroke="none"/>
<rect x="385.8" y="691.9" width="3.6" height="4.6" fill="#6b6b6b" stroke="none"/>
<rect x="410.1" y="695.4" width="3.6" height="4.6" fill="#6b6b6b" stroke="none"/>
<rect x="417.7" y="695.4" width="3.6" height="4.6" fill="#6b6b6b" stroke="none"/>
<rect x="430.1" y="695.4" width="3.6" height="4.6" fill="#6b6b6b" stroke="none"/>
<rect x="469.2" y="695.4" width="3.6" height="4.6" fill="#6b6b6b" stroke="none"/>
<rect x="490.1" y="695.4" width="3.6" height="4.6" fill="#6b6b6b" stroke="none"/>
<rect x="243.0" y="566.7" width="3.6" height="4.6" fill="#3a3a3a" stroke="none"/>
<rect x="255.3" y="589.7" width="3.6" height="4.6" fill="#3a3a3a" stroke="none"/>
<rect x="262.0" y="602.7" width="3.6" height="4.6" fill="#3a3a3a" stroke="none"/>
<rect x="268.7" y="612.7" width="3.6" height="4.6" fill="#3a3a3a" stroke="none"/>
<rect x="270.6" y="614.2" width="3.6" height="4.6" fill="#3a3a3a" stroke="none"/>
<rect x="279.2" y="622.7" width="3.6" height="4.6" fill="#3a3a3a" stroke="none"/>
<rect x="289.6" y="627.6" width="3.6" height="4.6" fill="#3a3a3a" stroke="none"/>
<rect x="293.4" y="627.6" width="3.6" height="4.6" fill="#3a3a3a" stroke="none"/>
<rect x="300.1" y="636.1" width="3.6" height="4.6" fill="#3a3a3a" stroke="none"/>
<rect x="304.9" y="636.1" width="3.6" height="4.6" fill="#3a3a3a" stroke="none"/>
<rect x="308.2" y="637.5" width="3.6" height="4.6" fill="#3a3a3a" stroke="none"/>
<rect x="311.5" y="637.5" width="3.6" height="4.6" fill="#3a3a3a" stroke="none"/>
<rect x="324.9" y="639.9" width="3.6" height="4.6" fill="#3a3a3a" stroke="none"/>
<rect x="331.5" y="644.2" width="3.6" height="4.6" fill="#3a3a3a" stroke="none"/>
<rect x="334.7" y="645.0" width="3.6" height="4.6" fill="#3a3a3a" stroke="none"/>
<rect x="338.2" y="643.7" width="3.6" height="4.6" fill="#3a3a3a" stroke="none"/>
<rect x="349.6" y="645.7" width="3.6" height="4.6" fill="#3a3a3a" stroke="none"/>
<rect x="362.0" y="647.7" width="3.6" height="4.6" fill="#3a3a3a" stroke="none"/>
<rect x="367.7" y="650.2" width="3.6" height="4.6" fill="#3a3a3a" stroke="none"/>
<rect x="370.6" y="654.4" width="3.6" height="4.6" fill="#3a3a3a" stroke="none"/>
<rect x="374.8" y="654.6" width="3.6" height="4.6" fill="#3a3a3a" stroke="none"/>
<rect x="397.2" y="656.5" width="3.6" height="4.6" fill="#3a3a3a" stroke="none"/>
<rect x="399.6" y="656.5" width="3.6" height="4.6" fill="#3a3a3a" stroke="none"/>
<rect x="413.0" y="656.5" width="3.6" height="4.6" fill="#3a3a3a" stroke="none"/>
<rect x="421.5" y="656.5" width="3.6" height="4.6" fill="#3a3a3a" stroke="none"/>
<rect x="436.8" y="656.5" width="3.6" height="4.6" fill="#3a3a3a" stroke="none"/>
<rect x="439.7" y="656.5" width="3.6" height="4.6" fill="#3a3a3a" stroke="none"/>
<rect x="442.5" y="656.5" width="3.6" height="4.6" fill="#3a3a3a" stroke="none"/>
<rect x="445.3" y="656.5" width="3.6" height="4.6" fill="#3a3a3a" stroke="none"/>
<rect x="458.7" y="656.5" width="3.6" height="4.6" fill="#3a3a3a" stroke="none"/>
<rect x="478.7" y="656.5" width="3.6" height="4.6" fill="#3a3a3a" stroke="none"/>
<rect x="498.7" y="656.5" width="3.6" height="4.6" fill="#3a3a3a" stroke="none"/>
<rect x="512.4" y="656.5" width="3.6" height="4.6" fill="#3a3a3a" stroke="none"/>
<rect x="520.6" y="656.5" width="3.6" height="4.6" fill="#3a3a3a" stroke="none"/>
<rect x="523.4" y="656.5" width="3.6" height="4.6" fill="#3a3a3a" stroke="none"/>
<rect x="549.7" y="656.5" width="3.6" height="4.6" fill="#3a3a3a" stroke="none"/>
<rect x="237.2" y="529.7" width="3.6" height="3.6" fill="#161616" stroke="none"/>
<rect x="256.3" y="545.2" width="3.6" height="3.6" fill="#161616" stroke="none"/>
<rect x="271.2" y="560.1" width="3.6" height="3.6" fill="#161616" stroke="none"/>
<rect x="326.8" y="613.8" width="3.6" height="3.6" fill="#161616" stroke="none"/>
<rect x="375.3" y="613.8" width="3.6" height="3.6" fill="#161616" stroke="none"/>
<rect x="410.1" y="613.8" width="3.6" height="3.6" fill="#161616" stroke="none"/>
<rect x="417.7" y="613.8" width="3.6" height="3.6" fill="#161616" stroke="none"/>
<rect x="494.9" y="613.8" width="3.6" height="3.6" fill="#161616" stroke="none"/>
<rect x="539.6" y="613.8" width="3.6" height="3.6" fill="#161616" stroke="none"/>
</g>
<clipPath id="cl21"><rect x="603.2" y="528.8" width="337.4" height="190.6"/></clipPath>
<g clip-path="url(#cl21)" fill="none" stroke-linejoin="miter">
<path d="M611.4 529.9 L615.2 529.9 L615.2 530.8 L616.2 530.8 L616.2 540.3 L619.0 540.3 L619.0 546.0 L621.4 546.0 L621.4 548.0 L623.8 548.0 L623.8 549.9 L628.6 549.9 L628.6 551.8 L629.5 551.8 L629.5 561.3 L633.3 561.3 L633.3 563.2 L634.3 563.2 L634.3 571.8 L640.0 571.8 L640.0 573.7 L641.9 573.7 L641.9 582.2 L643.3 582.2 L643.3 585.1 L644.8 585.1 L644.8 588.0 L645.7 588.0 L645.7 597.1 L656.2 597.1 L656.2 597.9 L659.0 597.9 L659.0 599.6 L661.9 599.6 L661.9 601.3 L662.5 601.3 L662.5 608.9 L669.5 608.9 L669.5 609.9 L671.4 609.9 L671.4 612.8 L673.3 612.8 L673.3 615.6 L680.0 615.6 L680.0 618.4 L689.5 618.4 L689.5 619.4 L690.5 619.4 L690.5 623.2 L703.8 623.2 L704.8 623.2 L704.8 634.6 L722.9 634.6 L722.9 635.2 L723.8 635.2 L723.8 639.4 L732.4 639.4 L732.4 640.3 L733.3 640.3 L733.3 647.0 L753.3 647.0 L753.3 647.4 L754.3 647.4 L754.3 653.7 L758.1 653.7 L758.1 656.5 L800.5 656.5 L800.5 669.9 L879.9 669.9 L879.9 695.6 L895.7 695.6 L895.7 721.0" stroke="#6b6b6b" stroke-width="1.65"/>
<path d="M611.4 529.9 L614.3 529.9 L614.3 546.0 L618.5 546.0 L618.5 547.0 L618.5 609.9 L629.0 609.9 L629.0 631.2 L643.8 631.2 L643.8 654.2 L661.3 654.2 L661.3 675.6 L835.7 675.6" stroke="#161616" stroke-width="1.85"/>
<path d="M611.4 529.9 L612.4 529.9 L612.4 546.0 L617.1 546.0 L617.1 548.0 L618.1 548.0 L618.1 565.1 L619.7 565.1 L619.7 567.0 L621.3 567.0 L621.3 568.9 L622.9 568.9 L622.9 570.8 L624.8 570.8 L624.8 584.1 L627.6 584.1 L627.6 593.7 L628.6 593.7 L628.6 605.1 L633.3 605.1 L633.3 607.0 L634.3 607.0 L634.3 615.6 L642.9 615.6 L642.9 616.5 L644.8 616.5 L644.8 625.1 L647.1 625.1 L647.1 628.0 L649.5 628.0 L649.5 630.8 L651.4 630.8 L651.4 633.0 L653.3 633.0 L653.3 635.3 L655.2 635.3 L655.2 637.5 L674.3 637.5 L675.2 637.5 L675.2 645.1 L682.9 645.1 L682.9 646.0 L683.8 646.0 L683.8 652.3 L698.1 652.3 L698.1 652.7 L699.0 652.7 L699.0 659.4 L712.4 659.4 L712.4 659.8 L713.3 659.8 L713.3 667.0 L720.4 667.0 L720.4 667.6 L721.0 667.6 L721.0 674.2 L854.8 674.2 L854.8 696.5 L878.2 696.5 L878.2 721.0" stroke="#3a3a3a" stroke-width="1.85"/>
<rect x="623.9" y="548.7" width="3.6" height="4.6" fill="#6b6b6b" stroke="none"/>
<rect x="637.2" y="571.2" width="3.6" height="4.6" fill="#6b6b6b" stroke="none"/>
<rect x="642.0" y="582.7" width="3.6" height="4.6" fill="#6b6b6b" stroke="none"/>
<rect x="653.4" y="594.8" width="3.6" height="4.6" fill="#6b6b6b" stroke="none"/>
<rect x="662.0" y="606.6" width="3.6" height="4.6" fill="#6b6b6b" stroke="none"/>
<rect x="665.8" y="606.6" width="3.6" height="4.6" fill="#6b6b6b" stroke="none"/>
<rect x="680.1" y="616.1" width="3.6" height="4.6" fill="#6b6b6b" stroke="none"/>
<rect x="689.6" y="620.9" width="3.6" height="4.6" fill="#6b6b6b" stroke="none"/>
<rect x="693.2" y="620.9" width="3.6" height="4.6" fill="#6b6b6b" stroke="none"/>
<rect x="697.2" y="620.9" width="3.6" height="4.6" fill="#6b6b6b" stroke="none"/>
<rect x="701.1" y="620.9" width="3.6" height="4.6" fill="#6b6b6b" stroke="none"/>
<rect x="723.0" y="637.5" width="3.6" height="4.6" fill="#6b6b6b" stroke="none"/>
<rect x="729.6" y="637.1" width="3.6" height="4.6" fill="#6b6b6b" stroke="none"/>
<rect x="744.9" y="644.7" width="3.6" height="4.6" fill="#6b6b6b" stroke="none"/>
<rect x="758.2" y="654.2" width="3.6" height="4.6" fill="#6b6b6b" stroke="none"/>
<rect x="797.7" y="654.2" width="3.6" height="4.6" fill="#6b6b6b" stroke="none"/>
<rect x="802.5" y="667.6" width="3.6" height="4.6" fill="#6b6b6b" stroke="none"/>
<rect x="808.2" y="667.6" width="3.6" height="4.6" fill="#6b6b6b" stroke="none"/>
<rect x="615.3" y="562.7" width="3.6" height="4.6" fill="#161616" stroke="none"/>
<rect x="711.5" y="673.3" width="3.6" height="4.6" fill="#161616" stroke="none"/>
<rect x="811.1" y="673.3" width="3.6" height="4.6" fill="#161616" stroke="none"/>
<rect x="828.2" y="673.3" width="3.6" height="4.6" fill="#161616" stroke="none"/>
<rect x="833.0" y="673.3" width="3.6" height="4.6" fill="#161616" stroke="none"/>
<rect x="624.9" y="589.7" width="3.6" height="4.6" fill="#3a3a3a" stroke="none"/>
<rect x="626.8" y="602.7" width="3.6" height="4.6" fill="#3a3a3a" stroke="none"/>
<rect x="649.6" y="629.7" width="3.6" height="4.6" fill="#3a3a3a" stroke="none"/>
<rect x="651.5" y="632.7" width="3.6" height="4.6" fill="#3a3a3a" stroke="none"/>
<rect x="665.8" y="635.2" width="3.6" height="4.6" fill="#3a3a3a" stroke="none"/>
<rect x="672.5" y="635.2" width="3.6" height="4.6" fill="#3a3a3a" stroke="none"/>
<rect x="683.5" y="650.0" width="3.6" height="4.6" fill="#3a3a3a" stroke="none"/>
<rect x="697.2" y="656.7" width="3.6" height="4.6" fill="#3a3a3a" stroke="none"/>
<rect x="721.1" y="671.9" width="3.6" height="4.6" fill="#3a3a3a" stroke="none"/>
</g>
<clipPath id="cl30"><rect x="222.9" y="775.0" width="337.1" height="200.2"/></clipPath>
<g clip-path="url(#cl30)" fill="none" stroke-linejoin="miter">
<path d="M225.7 776.8 L232.3 776.8 L232.3 778.7 L239.0 778.7 L239.0 780.6 L240.9 780.6 L240.9 782.0 L242.9 782.0 L242.9 783.5 L243.8 783.5 L243.8 802.5 L248.6 802.5 L248.6 803.5 L251.4 803.5 L251.4 809.2 L253.3 809.2 L253.3 811.6 L255.2 811.6 L255.2 814.0 L261.0 814.0 L261.0 815.9 L261.9 815.9 L261.9 826.3 L269.5 826.3 L270.5 826.3 L270.5 839.7 L276.2 839.7 L276.2 840.6 L277.1 840.6 L277.1 846.3 L285.7 846.3 L285.7 847.3 L286.7 847.3 L286.7 854.0 L290.5 854.0 L290.5 854.9 L291.4 854.9 L291.4 861.6 L295.2 861.6 L295.2 862.5 L295.8 862.5 L295.8 875.9 L444.3 875.9" stroke="#6b6b6b" stroke-width="1.65"/>
<path d="M225.7 776.8 L229.5 776.8 L229.5 778.2 L233.3 778.2 L233.3 779.7 L235.2 779.7 L235.2 784.0 L237.1 784.0 L237.1 788.2 L238.6 788.2 L238.6 794.0 L240.0 794.0 L240.0 799.7 L241.4 799.7 L241.4 805.4 L242.9 805.4 L242.9 811.1 L245.2 811.1 L245.2 815.9 L247.6 815.9 L247.6 820.6 L249.1 820.6 L249.1 827.3 L250.5 827.3 L250.5 834.0 L252.8 834.0 L252.8 839.7 L255.2 839.7 L255.2 845.4 L257.1 845.4 L257.1 851.1 L259.0 851.1 L259.0 856.8 L260.9 856.8 L260.9 860.0 L262.9 860.0 L262.9 863.1 L264.8 863.1 L264.8 866.3 L267.1 866.3 L267.1 870.1 L269.5 870.1 L269.5 874.0 L271.4 874.0 L271.4 875.9 L273.3 875.9 L273.3 877.8 L275.2 877.8 L275.2 879.7 L277.1 879.7 L277.1 883.0 L279.0 883.0 L279.0 886.3 L291.4 886.3 L291.4 887.3 L293.8 887.3 L293.8 889.6 L296.2 889.6 L296.2 892.0 L297.8 892.0 L297.8 894.2 L299.4 894.2 L299.4 896.5 L301.0 896.5 L301.0 898.7 L312.4 898.7 L312.4 900.6 L313.3 900.6 L313.3 904.0 L325.7 904.0 L325.7 904.4 L328.1 904.4 L328.1 906.3 L330.5 906.3 L330.5 908.2 L361.9 908.2 L361.9 908.6 L363.4 908.6 L363.4 910.8 L364.8 910.8 L364.8 913.0 L370.5 913.0 L370.5 914.0 L372.4 914.0 L372.4 916.9 L374.3 916.9 L374.3 919.7 L377.1 919.7 L377.1 921.6 L380.0 921.6 L380.0 923.5 L551.9 923.5" stroke="#3a3a3a" stroke-width="1.85"/>
<path d="M225.7 776.8 L232.4 776.8 L232.4 778.7 L234.3 778.7 L234.3 783.5 L236.2 783.5 L236.2 788.2 L239.0 788.2 L239.0 801.6 L240.4 801.6 L240.4 807.3 L241.9 807.3 L241.9 813.0 L243.8 813.0 L243.8 817.8 L245.7 817.8 L245.7 822.5 L247.1 822.5 L247.1 829.2 L248.6 829.2 L248.6 835.9 L251.4 835.9 L251.4 849.2 L252.9 849.2 L252.9 854.9 L254.3 854.9 L254.3 860.6 L256.6 860.6 L256.6 865.4 L259.0 865.4 L259.0 870.1 L260.9 870.1 L260.9 874.9 L262.9 874.9 L262.9 879.7 L264.8 879.7 L264.8 884.5 L266.7 884.5 L266.7 889.2 L268.9 889.2 L268.9 890.8 L271.1 890.8 L271.1 892.4 L273.3 892.4 L273.3 894.0 L275.2 894.0 L275.2 896.9 L277.1 896.9 L277.1 899.7 L280.5 899.7 L280.5 901.6 L283.8 901.6 L283.8 903.5 L285.5 903.5 L285.5 905.6 L287.1 905.6 L287.1 907.8 L288.8 907.8 L288.8 909.9 L290.5 909.9 L290.5 912.0 L293.4 912.0 L293.4 913.8 L296.2 913.8 L296.2 915.5 L307.6 915.5 L307.6 915.9 L308.6 915.9 L308.6 921.6 L313.3 921.6 L313.3 924.4 L321.0 924.4 L321.0 925.4 L322.9 925.4 L322.9 927.3 L324.8 927.3 L324.8 929.2 L330.5 929.2 L330.5 930.7 L398.6 930.7 L398.6 934.5 L542.4 934.5" stroke="#161616" stroke-width="1.85"/>
<rect x="238.2" y="779.3" width="3.6" height="3.4" fill="#6b6b6b" stroke="none"/>
<rect x="258.2" y="813.8" width="3.6" height="3.4" fill="#6b6b6b" stroke="none"/>
<rect x="262.0" y="824.6" width="3.6" height="3.4" fill="#6b6b6b" stroke="none"/>
<rect x="269.6" y="838.3" width="3.6" height="3.4" fill="#6b6b6b" stroke="none"/>
<rect x="296.3" y="874.2" width="3.6" height="3.4" fill="#6b6b6b" stroke="none"/>
<rect x="301.2" y="874.2" width="3.6" height="3.4" fill="#6b6b6b" stroke="none"/>
<rect x="305.2" y="874.2" width="3.6" height="3.4" fill="#6b6b6b" stroke="none"/>
<rect x="309.6" y="874.2" width="3.6" height="3.4" fill="#6b6b6b" stroke="none"/>
<rect x="326.8" y="874.2" width="3.6" height="3.4" fill="#6b6b6b" stroke="none"/>
<rect x="334.4" y="874.2" width="3.6" height="3.4" fill="#6b6b6b" stroke="none"/>
<rect x="368.7" y="874.2" width="3.6" height="3.4" fill="#6b6b6b" stroke="none"/>
<rect x="399.6" y="874.2" width="3.6" height="3.4" fill="#6b6b6b" stroke="none"/>
<rect x="408.2" y="874.2" width="3.6" height="3.4" fill="#6b6b6b" stroke="none"/>
<rect x="411.7" y="874.2" width="3.6" height="3.4" fill="#6b6b6b" stroke="none"/>
<rect x="414.9" y="874.2" width="3.6" height="3.4" fill="#6b6b6b" stroke="none"/>
<rect x="440.6" y="874.2" width="3.6" height="3.4" fill="#6b6b6b" stroke="none"/>
<rect x="246.8" y="821.7" width="3.6" height="4.6" fill="#3a3a3a" stroke="none"/>
<rect x="255.3" y="848.7" width="3.6" height="4.6" fill="#3a3a3a" stroke="none"/>
<rect x="280.1" y="884.5" width="3.6" height="4.6" fill="#3a3a3a" stroke="none"/>
<rect x="290.6" y="886.2" width="3.6" height="4.6" fill="#3a3a3a" stroke="none"/>
<rect x="294.4" y="889.7" width="3.6" height="4.6" fill="#3a3a3a" stroke="none"/>
<rect x="300.1" y="896.7" width="3.6" height="4.6" fill="#3a3a3a" stroke="none"/>
<rect x="307.7" y="896.4" width="3.6" height="4.6" fill="#3a3a3a" stroke="none"/>
<rect x="323.9" y="902.1" width="3.6" height="4.6" fill="#3a3a3a" stroke="none"/>
<rect x="331.5" y="906.0" width="3.6" height="4.6" fill="#3a3a3a" stroke="none"/>
<rect x="338.2" y="905.9" width="3.6" height="4.6" fill="#3a3a3a" stroke="none"/>
<rect x="349.6" y="905.9" width="3.6" height="4.6" fill="#3a3a3a" stroke="none"/>
<rect x="361.1" y="907.2" width="3.6" height="4.6" fill="#3a3a3a" stroke="none"/>
<rect x="366.8" y="911.4" width="3.6" height="4.6" fill="#3a3a3a" stroke="none"/>
<rect x="374.4" y="918.7" width="3.6" height="4.6" fill="#3a3a3a" stroke="none"/>
<rect x="380.1" y="921.2" width="3.6" height="4.6" fill="#3a3a3a" stroke="none"/>
<rect x="382.7" y="921.2" width="3.6" height="4.6" fill="#3a3a3a" stroke="none"/>
<rect x="384.9" y="921.2" width="3.6" height="4.6" fill="#3a3a3a" stroke="none"/>
<rect x="397.2" y="921.2" width="3.6" height="4.6" fill="#3a3a3a" stroke="none"/>
<rect x="397.7" y="921.2" width="3.6" height="4.6" fill="#3a3a3a" stroke="none"/>
<rect x="413.9" y="921.2" width="3.6" height="4.6" fill="#3a3a3a" stroke="none"/>
<rect x="417.7" y="921.2" width="3.6" height="4.6" fill="#3a3a3a" stroke="none"/>
<rect x="421.5" y="921.2" width="3.6" height="4.6" fill="#3a3a3a" stroke="none"/>
<rect x="430.1" y="921.2" width="3.6" height="4.6" fill="#3a3a3a" stroke="none"/>
<rect x="435.8" y="921.2" width="3.6" height="4.6" fill="#3a3a3a" stroke="none"/>
<rect x="457.2" y="921.2" width="3.6" height="4.6" fill="#3a3a3a" stroke="none"/>
<rect x="475.8" y="921.2" width="3.6" height="4.6" fill="#3a3a3a" stroke="none"/>
<rect x="479.6" y="921.2" width="3.6" height="4.6" fill="#3a3a3a" stroke="none"/>
<rect x="498.3" y="921.2" width="3.6" height="4.6" fill="#3a3a3a" stroke="none"/>
<rect x="512.0" y="921.2" width="3.6" height="4.6" fill="#3a3a3a" stroke="none"/>
<rect x="518.7" y="921.2" width="3.6" height="4.6" fill="#3a3a3a" stroke="none"/>
<rect x="523.4" y="921.2" width="3.6" height="4.6" fill="#3a3a3a" stroke="none"/>
<rect x="549.8" y="921.5" width="3.4" height="4" fill="#f4f4f4" stroke="#3a3a3a" stroke-width="1.1"/>
<rect x="237.2" y="800.1" width="3.6" height="3.8" fill="#161616" stroke="none"/>
<rect x="245.8" y="829.1" width="3.6" height="3.8" fill="#161616" stroke="none"/>
<rect x="257.2" y="868.1" width="3.6" height="3.8" fill="#161616" stroke="none"/>
<rect x="265.8" y="888.1" width="3.6" height="3.8" fill="#161616" stroke="none"/>
<rect x="276.3" y="898.1" width="3.6" height="3.8" fill="#161616" stroke="none"/>
<rect x="290.6" y="911.6" width="3.6" height="3.8" fill="#161616" stroke="none"/>
<rect x="293.4" y="913.1" width="3.6" height="3.8" fill="#161616" stroke="none"/>
<rect x="317.2" y="923.1" width="3.6" height="3.8" fill="#161616" stroke="none"/>
<rect x="328.7" y="927.3" width="3.6" height="3.8" fill="#161616" stroke="none"/>
<rect x="347.7" y="928.8" width="3.6" height="3.8" fill="#161616" stroke="none"/>
<rect x="397.2" y="932.6" width="3.6" height="3.8" fill="#161616" stroke="none"/>
<rect x="408.2" y="932.6" width="3.6" height="3.8" fill="#161616" stroke="none"/>
<rect x="411.1" y="932.6" width="3.6" height="3.8" fill="#161616" stroke="none"/>
<rect x="417.7" y="932.6" width="3.6" height="3.8" fill="#161616" stroke="none"/>
<rect x="428.2" y="932.6" width="3.6" height="3.8" fill="#161616" stroke="none"/>
<rect x="444.4" y="932.6" width="3.6" height="3.8" fill="#161616" stroke="none"/>
<rect x="468.2" y="932.6" width="3.6" height="3.8" fill="#161616" stroke="none"/>
<rect x="489.2" y="932.6" width="3.6" height="3.8" fill="#161616" stroke="none"/>
<rect x="494.5" y="932.6" width="3.6" height="3.8" fill="#161616" stroke="none"/>
<rect x="539.6" y="932.6" width="3.6" height="3.8" fill="#161616" stroke="none"/>
</g>
<clipPath id="cl31"><rect x="603.2" y="775.0" width="337.4" height="185.6"/></clipPath>
<g clip-path="url(#cl31)" fill="none" stroke-linejoin="miter">
<path d="M608.6 775.9 L611.4 775.9 L611.4 780.6 L612.8 780.6 L612.8 786.3 L614.3 786.3 L614.3 792.0 L617.1 792.0 L617.1 797.8 L618.1 797.8 L618.1 822.5 L619.5 822.5 L619.5 825.4 L621.0 825.4 L621.0 828.2 L626.7 828.2 L626.7 829.2 L627.6 829.2 L627.6 849.2 L640.0 849.2 L640.0 849.8 L641.0 849.8 L641.0 859.7 L647.6 859.7 L647.6 860.6 L653.3 860.6 L653.3 862.5 L654.3 862.5 L654.3 867.3 L661.0 867.3 L661.0 868.2 L670.5 868.2 L670.5 869.2 L671.4 869.2 L671.4 880.6 L868.1 880.6 L868.1 962.0" stroke="#6b6b6b" stroke-width="1.65"/>
<path d="M608.6 775.9 L612.4 775.9 L612.4 778.7 L614.3 778.7 L614.3 788.2 L617.1 788.2 L617.1 797.8 L618.5 797.8 L618.5 803.5 L620.0 803.5 L620.0 809.2 L621.5 809.2 L621.5 814.9 L622.9 814.9 L622.9 820.6 L625.7 820.6 L625.7 830.1 L627.2 830.1 L627.2 834.0 L628.6 834.0 L628.6 837.8 L634.3 837.8 L634.3 838.7 L635.2 838.7 L635.2 845.4 L640.0 845.4 L640.0 847.3 L641.9 847.3 L641.9 854.9 L647.6 854.9 L647.6 856.8 L648.6 856.8 L648.6 862.5 L655.2 862.5 L655.2 863.5 L657.1 863.5 L657.1 865.4 L659.0 865.4 L659.0 867.3 L672.4 867.3 L672.4 867.9 L673.3 867.9 L673.3 872.0 L680.0 872.0 L680.0 873.0 L681.0 873.0 L681.0 880.6 L699.0 880.6 L699.0 881.6 L700.0 881.6 L700.0 890.1 L710.5 890.1 L710.5 890.7 L710.9 890.7 L710.9 895.9 L728.6 895.9 L729.5 895.9 L729.5 904.8 L747.6 904.8 L748.6 904.8 L748.6 914.6 L844.9 914.6 L844.9 962.0" stroke="#3a3a3a" stroke-width="1.85"/>
<path d="M608.6 775.9 L613.3 775.9 L613.3 776.8 L615.2 776.8 L615.2 786.3 L616.7 786.3 L616.7 788.2 L618.1 788.2 L618.1 790.1 L619.0 790.1 L619.0 797.8 L626.7 797.8 L628.6 797.8 L628.6 813.0 L631.4 813.0 L631.4 814.0 L632.4 814.0 L632.4 830.1 L635.2 830.1 L635.2 834.0 L640.0 834.0 L640.0 834.9 L641.9 834.9 L641.9 841.6 L643.8 841.6 L643.8 851.1 L645.7 851.1 L645.7 856.8 L652.4 856.8 L652.4 857.8 L653.3 857.8 L653.3 862.5 L659.0 862.5 L659.0 863.5 L660.0 863.5 L660.0 874.0 L668.6 874.0 L668.6 874.9 L669.5 874.9 L669.5 881.6 L693.3 881.6 L693.3 882.0 L694.3 882.0 L694.3 887.3 L699.0 887.3 L699.0 888.2 L700.0 888.2 L700.0 890.1 L715.2 890.1 L716.2 890.1 L716.2 914.0 L794.4 914.0 L794.4 929.6 L869.0 929.6 L869.0 945.4 L885.8 945.4 L885.8 962.0" stroke="#161616" stroke-width="1.85"/>
<rect x="615.4" y="796.1" width="3.4" height="3.8" fill="#6b6b6b" stroke="none"/>
<rect x="624.0" y="827.1" width="3.4" height="3.8" fill="#6b6b6b" stroke="none"/>
<rect x="707.8" y="878.7" width="3.4" height="3.8" fill="#6b6b6b" stroke="none"/>
<rect x="719.3" y="878.7" width="3.4" height="3.8" fill="#6b6b6b" stroke="none"/>
<rect x="800.7" y="878.7" width="3.4" height="3.8" fill="#6b6b6b" stroke="none"/>
<rect x="820.7" y="878.7" width="3.4" height="3.8" fill="#6b6b6b" stroke="none"/>
<rect x="824.5" y="878.7" width="3.4" height="3.8" fill="#6b6b6b" stroke="none"/>
<rect x="610.6" y="776.7" width="3.6" height="4.6" fill="#3a3a3a" stroke="none"/>
<rect x="623.0" y="824.7" width="3.6" height="4.6" fill="#3a3a3a" stroke="none"/>
<rect x="641.1" y="852.7" width="3.6" height="4.6" fill="#3a3a3a" stroke="none"/>
<rect x="648.7" y="860.2" width="3.6" height="4.6" fill="#3a3a3a" stroke="none"/>
<rect x="663.0" y="865.0" width="3.6" height="4.6" fill="#3a3a3a" stroke="none"/>
<rect x="675.3" y="870.2" width="3.6" height="4.6" fill="#3a3a3a" stroke="none"/>
<rect x="682.0" y="878.3" width="3.6" height="4.6" fill="#3a3a3a" stroke="none"/>
<rect x="684.7" y="878.3" width="3.6" height="4.6" fill="#3a3a3a" stroke="none"/>
<rect x="687.7" y="878.3" width="3.6" height="4.6" fill="#3a3a3a" stroke="none"/>
<rect x="716.3" y="893.6" width="3.6" height="4.6" fill="#3a3a3a" stroke="none"/>
<rect x="739.2" y="902.5" width="3.6" height="4.6" fill="#3a3a3a" stroke="none"/>
<rect x="752.5" y="912.3" width="3.6" height="4.6" fill="#3a3a3a" stroke="none"/>
<rect x="795.8" y="912.3" width="3.6" height="4.6" fill="#3a3a3a" stroke="none"/>
<rect x="804.4" y="912.3" width="3.6" height="4.6" fill="#3a3a3a" stroke="none"/>
<rect x="649.6" y="855.2" width="3.6" height="4.6" fill="#161616" stroke="none"/>
<rect x="658.2" y="871.7" width="3.6" height="4.6" fill="#161616" stroke="none"/>
<rect x="663.0" y="872.2" width="3.6" height="4.6" fill="#161616" stroke="none"/>
<rect x="725.8" y="911.7" width="3.6" height="4.6" fill="#161616" stroke="none"/>
<rect x="792.0" y="911.7" width="3.6" height="4.6" fill="#161616" stroke="none"/>
</g>
<g stroke="#1c1c1c" stroke-width="1.45" fill="none" stroke-linecap="butt">
<path d="M222.9 41.8 H560.0 V241.8 H222.9 Z"/>
<path d="M213.3 41.8 H222.9"/>
<path d="M213.3 91.8 H222.9"/>
<path d="M213.3 141.8 H222.9"/>
<path d="M213.3 191.8 H222.9"/>
<path d="M213.3 241.8 H222.9"/>
<path d="M222.9 241.8 V250.6"/>
<path d="M279.1 241.8 V250.6"/>
<path d="M335.3 241.8 V250.6"/>
<path d="M391.5 241.8 V250.6"/>
<path d="M447.6 241.8 V250.6"/>
<path d="M503.8 241.8 V250.6"/>
<path d="M560.0 241.8 V250.6"/>
</g>
<g stroke="#1c1c1c" stroke-width="1.45" fill="none" stroke-linecap="butt">
<path d="M603.2 41.8 H940.6 V241.8 H603.2 Z"/>
<path d="M593.6 41.8 H603.2"/>
<path d="M593.6 91.8 H603.2"/>
<path d="M593.6 141.8 H603.2"/>
<path d="M593.6 191.8 H603.2"/>
<path d="M593.6 241.8 H603.2"/>
<path d="M603.2 241.8 V250.6"/>
<path d="M659.4 241.8 V250.6"/>
<path d="M715.7 241.8 V250.6"/>
<path d="M771.9 241.8 V250.6"/>
<path d="M828.1 241.8 V250.6"/>
<path d="M884.4 241.8 V250.6"/>
<path d="M940.6 241.8 V250.6"/>
</g>
<g stroke="#1c1c1c" stroke-width="1.45" fill="none" stroke-linecap="butt">
<path d="M222.9 289.7 H560.0 V489.9 H222.9 Z"/>
<path d="M213.3 289.7 H222.9"/>
<path d="M213.3 339.8 H222.9"/>
<path d="M213.3 389.8 H222.9"/>
<path d="M213.3 439.8 H222.9"/>
<path d="M213.3 489.9 H222.9"/>
<path d="M222.9 489.9 V498.7"/>
<path d="M279.1 489.9 V498.7"/>
<path d="M335.3 489.9 V498.7"/>
<path d="M391.5 489.9 V498.7"/>
<path d="M447.6 489.9 V498.7"/>
<path d="M503.8 489.9 V498.7"/>
<path d="M560.0 489.9 V498.7"/>
</g>
<g stroke="#1c1c1c" stroke-width="1.45" fill="none" stroke-linecap="butt">
<path d="M603.2 289.7 H940.6 V489.9 H603.2 Z"/>
<path d="M593.6 289.7 H603.2"/>
<path d="M593.6 339.8 H603.2"/>
<path d="M593.6 389.8 H603.2"/>
<path d="M593.6 439.8 H603.2"/>
<path d="M593.6 489.9 H603.2"/>
<path d="M603.2 489.9 V498.7"/>
<path d="M659.4 489.9 V498.7"/>
<path d="M715.7 489.9 V498.7"/>
<path d="M771.9 489.9 V498.7"/>
<path d="M828.1 489.9 V498.7"/>
<path d="M884.4 489.9 V498.7"/>
<path d="M940.6 489.9 V498.7"/>
</g>
<g stroke="#1c1c1c" stroke-width="1.45" fill="none" stroke-linecap="butt">
<path d="M222.9 528.8 H560.0 V729.0 H222.9 Z"/>
<path d="M213.3 528.8 H222.9"/>
<path d="M213.3 578.8 H222.9"/>
<path d="M213.3 628.9 H222.9"/>
<path d="M213.3 679.0 H222.9"/>
<path d="M213.3 729.0 H222.9"/>
<path d="M222.9 729.0 V737.8"/>
<path d="M279.1 729.0 V737.8"/>
<path d="M335.3 729.0 V737.8"/>
<path d="M391.5 729.0 V737.8"/>
<path d="M447.6 729.0 V737.8"/>
<path d="M503.8 729.0 V737.8"/>
<path d="M560.0 729.0 V737.8"/>
</g>
<g stroke="#1c1c1c" stroke-width="1.45" fill="none" stroke-linecap="butt">
<path d="M603.2 528.8 H940.6 V729.0 H603.2 Z"/>
<path d="M593.6 528.8 H603.2"/>
<path d="M593.6 578.8 H603.2"/>
<path d="M593.6 628.9 H603.2"/>
<path d="M593.6 679.0 H603.2"/>
<path d="M593.6 729.0 H603.2"/>
<path d="M603.2 729.0 V737.8"/>
<path d="M659.4 729.0 V737.8"/>
<path d="M715.7 729.0 V737.8"/>
<path d="M771.9 729.0 V737.8"/>
<path d="M828.1 729.0 V737.8"/>
<path d="M884.4 729.0 V737.8"/>
<path d="M940.6 729.0 V737.8"/>
</g>
<g stroke="#1c1c1c" stroke-width="1.45" fill="none" stroke-linecap="butt">
<path d="M222.9 775.0 H560.0 V975.2 H222.9 Z"/>
<path d="M213.3 775.0 H222.9"/>
<path d="M213.3 825.0 H222.9"/>
<path d="M213.3 875.1 H222.9"/>
<path d="M213.3 925.2 H222.9"/>
<path d="M213.3 975.2 H222.9"/>
<path d="M222.9 975.2 V984.0"/>
<path d="M279.1 975.2 V984.0"/>
<path d="M335.3 975.2 V984.0"/>
<path d="M391.5 975.2 V984.0"/>
<path d="M447.6 975.2 V984.0"/>
<path d="M503.8 975.2 V984.0"/>
<path d="M560.0 975.2 V984.0"/>
</g>
<g stroke="#1c1c1c" stroke-width="1.45" fill="none" stroke-linecap="butt">
<path d="M603.2 775.0 H940.6 V975.2 H603.2 Z"/>
<path d="M593.6 775.0 H603.2"/>
<path d="M593.6 825.0 H603.2"/>
<path d="M593.6 875.1 H603.2"/>
<path d="M593.6 925.2 H603.2"/>
<path d="M593.6 975.2 H603.2"/>
<path d="M603.2 975.2 V984.0"/>
<path d="M659.4 975.2 V984.0"/>
<path d="M715.7 975.2 V984.0"/>
<path d="M771.9 975.2 V984.0"/>
<path d="M828.1 975.2 V984.0"/>
<path d="M884.4 975.2 V984.0"/>
<path d="M940.6 975.2 V984.0"/>
</g>
<g fill="#1a1a1a" font-size="20.5">
<text x="273.4" y="29.5" textLength="150.6" lengthAdjust="spacingAndGlyphs">Cisplatin-treated</text>
<text x="430.2" y="29.5">(</text>
<text x="437.7" y="29.5" font-style="italic">n</text>
<text x="453.0" y="29.5" textLength="13.0" lengthAdjust="spacingAndGlyphs">=</text>
<text x="468.0" y="29.5" textLength="42.6" lengthAdjust="spacingAndGlyphs">262)</text>
<text x="674.8" y="29.5" textLength="107.6" lengthAdjust="spacingAndGlyphs">No-cisplatin</text>
<text x="788.5" y="29.5">(</text>
<text x="796.0" y="29.5" font-style="italic">n</text>
<text x="809.0" y="29.5" textLength="14.5" lengthAdjust="spacingAndGlyphs">=</text>
<text x="825.3" y="29.5" textLength="44.0" lengthAdjust="spacingAndGlyphs">108)</text>
<text x="357.7" y="68.8" textLength="79.6" lengthAdjust="spacingAndGlyphs">Log-rank</text>
<text x="444.0" y="68.8" font-style="italic">P</text>
<text x="459.8" y="68.8">&lt;</text>
<text x="474.9" y="68.8" textLength="64.5" lengthAdjust="spacingAndGlyphs">0.0001</text>
<text x="757.7" y="68.8" textLength="79.6" lengthAdjust="spacingAndGlyphs">Log-rank</text>
<text x="844.0" y="68.8" font-style="italic">P</text>
<text x="859.9" y="68.8" textLength="13.6" lengthAdjust="spacingAndGlyphs">=</text>
<text x="875.9" y="68.8" textLength="41.8" lengthAdjust="spacingAndGlyphs">0.68</text>
<text x="357.7" y="319.0" textLength="79.6" lengthAdjust="spacingAndGlyphs">Log-rank</text>
<text x="444.0" y="319.0" font-style="italic">P</text>
<text x="459.9" y="319.0" textLength="13.6" lengthAdjust="spacingAndGlyphs">=</text>
<text x="475.9" y="319.0" textLength="65.7" lengthAdjust="spacingAndGlyphs">0.0002</text>
<text x="757.7" y="319.0" textLength="79.6" lengthAdjust="spacingAndGlyphs">Log-rank</text>
<text x="844.0" y="319.0" font-style="italic">P</text>
<text x="859.9" y="319.0" textLength="13.6" lengthAdjust="spacingAndGlyphs">=</text>
<text x="875.9" y="319.0" textLength="41.8" lengthAdjust="spacingAndGlyphs">0.21</text>
<text x="357.7" y="555.8" textLength="79.6" lengthAdjust="spacingAndGlyphs">Log-rank</text>
<text x="444.0" y="555.8" font-style="italic">P</text>
<text x="459.9" y="555.8" textLength="13.6" lengthAdjust="spacingAndGlyphs">=</text>
<text x="475.9" y="555.8" textLength="53.8" lengthAdjust="spacingAndGlyphs">0.002</text>
<text x="747.6" y="555.8" textLength="79.6" lengthAdjust="spacingAndGlyphs">Log-rank</text>
<text x="833.9" y="555.8" font-style="italic">P</text>
<text x="849.8" y="555.8" textLength="13.6" lengthAdjust="spacingAndGlyphs">=</text>
<text x="865.8" y="555.8" textLength="53.8" lengthAdjust="spacingAndGlyphs">0.056</text>
<text x="357.7" y="801.8" textLength="79.6" lengthAdjust="spacingAndGlyphs">Log-rank</text>
<text x="444.0" y="801.8" font-style="italic">P</text>
<text x="459.9" y="801.8" textLength="13.6" lengthAdjust="spacingAndGlyphs">=</text>
<text x="475.9" y="801.8" textLength="53.8" lengthAdjust="spacingAndGlyphs">0.010</text>
<text x="757.7" y="801.8" textLength="79.6" lengthAdjust="spacingAndGlyphs">Log-rank</text>
<text x="844.0" y="801.8" font-style="italic">P</text>
<text x="859.9" y="801.8" textLength="13.6" lengthAdjust="spacingAndGlyphs">=</text>
<text x="875.9" y="801.8" textLength="41.8" lengthAdjust="spacingAndGlyphs">0.94</text>
<text x="396.2" y="123.8" font-style="italic" textLength="78.4" lengthAdjust="spacingAndGlyphs">Asn/Asn</text>
<text x="417.1" y="163.8" font-style="italic" textLength="78.1" lengthAdjust="spacingAndGlyphs">Asp/Asn</text>
<text x="407.6" y="207.6" font-style="italic" textLength="79.0" lengthAdjust="spacingAndGlyphs">Asp/Asp</text>
<text x="674.4" y="94.3" font-style="italic" textLength="79.4" lengthAdjust="spacingAndGlyphs">Asp/Asp</text>
<text x="826.6" y="169.5" font-style="italic" textLength="79.1" lengthAdjust="spacingAndGlyphs">Asp/Asn</text>
<text x="664.3" y="222.5" font-style="italic" textLength="79.0" lengthAdjust="spacingAndGlyphs">Asn/Asn</text>
<text x="433.3" y="390.9" font-style="italic" textLength="72.7" lengthAdjust="spacingAndGlyphs">Gln/Gln</text>
<text x="418.1" y="432.2" font-style="italic" textLength="70.8" lengthAdjust="spacingAndGlyphs">Lys/Gln</text>
<text x="388.0" y="478.5" font-style="italic" textLength="69.1" lengthAdjust="spacingAndGlyphs">Lys/Lys</text>
<text x="688.1" y="381.3" font-style="italic" textLength="69.8" lengthAdjust="spacingAndGlyphs">Lys/Lys</text>
<text x="803.8" y="412.8" font-style="italic" textLength="70.4" lengthAdjust="spacingAndGlyphs">Lys/Gln</text>
<text x="626.2" y="470.9" font-style="italic" textLength="72.7" lengthAdjust="spacingAndGlyphs">Gln/Gln</text>
<text x="315.7" y="609.9" font-style="italic" textLength="34.6" lengthAdjust="spacingAndGlyphs">A/A</text>
<text x="420.9" y="653.1" font-style="italic" textLength="37.5" lengthAdjust="spacingAndGlyphs">C/A</text>
<text x="283.3" y="708.0" font-style="italic" textLength="39.4" lengthAdjust="spacingAndGlyphs">C/C</text>
<text x="674.7" y="608.5" font-style="italic" textLength="39.4" lengthAdjust="spacingAndGlyphs">C/C</text>
<text x="696.6" y="659.8" font-style="italic" textLength="36.6" lengthAdjust="spacingAndGlyphs">C/A</text>
<text x="630.9" y="696.5" font-style="italic" textLength="34.7" lengthAdjust="spacingAndGlyphs">A/A</text>
<text x="359.5" y="864.0" font-style="italic" textLength="38.9" lengthAdjust="spacingAndGlyphs">C/C</text>
<text x="390.5" y="917.8" font-style="italic" textLength="36.5" lengthAdjust="spacingAndGlyphs">C/T</text>
<text x="274.1" y="950.1" font-style="italic" textLength="30.5" lengthAdjust="spacingAndGlyphs">T/T</text>
<text x="788.5" y="908.2" font-style="italic" textLength="39.4" lengthAdjust="spacingAndGlyphs">C/C</text>
<text x="802.3" y="947.3" font-style="italic" textLength="36.1" lengthAdjust="spacingAndGlyphs">C/T</text>
<text x="742.7" y="943.5" font-style="italic" textLength="31.4" lengthAdjust="spacingAndGlyphs">T/T</text>
<text x="42.5" y="135.9" font-style="italic" textLength="41.9" lengthAdjust="spacingAndGlyphs">XPD</text>
<text x="8.5" y="162.0" font-style="italic" textLength="109.6" lengthAdjust="spacingAndGlyphs">Asp312Asn</text>
<text x="46.8" y="389.7" font-style="italic" textLength="42.0" lengthAdjust="spacingAndGlyphs">XPD</text>
<text x="17.9" y="415.5" font-style="italic" textLength="100.2" lengthAdjust="spacingAndGlyphs">Lys751Gln</text>
<text x="38.2" y="658.0" font-style="italic" textLength="73.2" lengthAdjust="spacingAndGlyphs">ERCC1</text>
<text x="31.7" y="683.8" font-style="italic" textLength="86.4" lengthAdjust="spacingAndGlyphs">8092C/A</text>
<text x="50.9" y="865.9" font-style="italic" textLength="73.6" lengthAdjust="spacingAndGlyphs">ERCC1</text>
<text x="54.4" y="891.8" font-style="italic" textLength="71.2" lengthAdjust="spacingAndGlyphs">118C/T</text>
<text x="205.0" y="48.0" text-anchor="end" textLength="29.9" lengthAdjust="spacingAndGlyphs">1.0</text>
<text x="205.0" y="148.0" text-anchor="end" textLength="29.9" lengthAdjust="spacingAndGlyphs">0.5</text>
<text x="205.0" y="248.0" text-anchor="end" textLength="12.0" lengthAdjust="spacingAndGlyphs">0</text>
<text x="205.0" y="295.9" text-anchor="end" textLength="29.9" lengthAdjust="spacingAndGlyphs">1.0</text>
<text x="205.0" y="396.0" text-anchor="end" textLength="29.9" lengthAdjust="spacingAndGlyphs">0.5</text>
<text x="205.0" y="496.1" text-anchor="end" textLength="12.0" lengthAdjust="spacingAndGlyphs">0</text>
<text x="205.0" y="535.0" text-anchor="end" textLength="29.9" lengthAdjust="spacingAndGlyphs">1.0</text>
<text x="205.0" y="635.1" text-anchor="end" textLength="29.9" lengthAdjust="spacingAndGlyphs">0.5</text>
<text x="205.0" y="735.2" text-anchor="end" textLength="12.0" lengthAdjust="spacingAndGlyphs">0</text>
<text x="205.0" y="781.2" text-anchor="end" textLength="29.9" lengthAdjust="spacingAndGlyphs">1.0</text>
<text x="205.0" y="881.3" text-anchor="end" textLength="29.9" lengthAdjust="spacingAndGlyphs">0.5</text>
<text x="205.0" y="981.4" text-anchor="end" textLength="12.0" lengthAdjust="spacingAndGlyphs">0</text>
<text x="251.0" y="1006.7" text-anchor="middle" textLength="12.0" lengthAdjust="spacingAndGlyphs">0</text>
<text x="307.2" y="1006.7" text-anchor="middle" textLength="23.9" lengthAdjust="spacingAndGlyphs">24</text>
<text x="363.4" y="1006.7" text-anchor="middle" textLength="23.9" lengthAdjust="spacingAndGlyphs">48</text>
<text x="419.5" y="1006.7" text-anchor="middle" textLength="23.9" lengthAdjust="spacingAndGlyphs">72</text>
<text x="475.7" y="1006.7" text-anchor="middle" textLength="23.9" lengthAdjust="spacingAndGlyphs">96</text>
<text x="532.9" y="1006.7" text-anchor="middle" textLength="35.9" lengthAdjust="spacingAndGlyphs">120</text>
<text x="631.3" y="1006.7" text-anchor="middle" textLength="12.0" lengthAdjust="spacingAndGlyphs">0</text>
<text x="687.6" y="1006.7" text-anchor="middle" textLength="23.9" lengthAdjust="spacingAndGlyphs">24</text>
<text x="743.8" y="1006.7" text-anchor="middle" textLength="23.9" lengthAdjust="spacingAndGlyphs">48</text>
<text x="800.0" y="1006.7" text-anchor="middle" textLength="23.9" lengthAdjust="spacingAndGlyphs">72</text>
<text x="856.2" y="1006.7" text-anchor="middle" textLength="23.9" lengthAdjust="spacingAndGlyphs">96</text>
<text x="912.5" y="1006.7" text-anchor="middle" textLength="35.9" lengthAdjust="spacingAndGlyphs">120</text>
<text x="516.2" y="1037.3" textLength="130.0" lengthAdjust="spacingAndGlyphs">Time (months)</text>
<text transform="translate(151.5 594.3) rotate(-90)" x="0" y="0" textLength="170.4" lengthAdjust="spacingAndGlyphs">Survival probability</text>
</g>
</svg>
</body></html>
